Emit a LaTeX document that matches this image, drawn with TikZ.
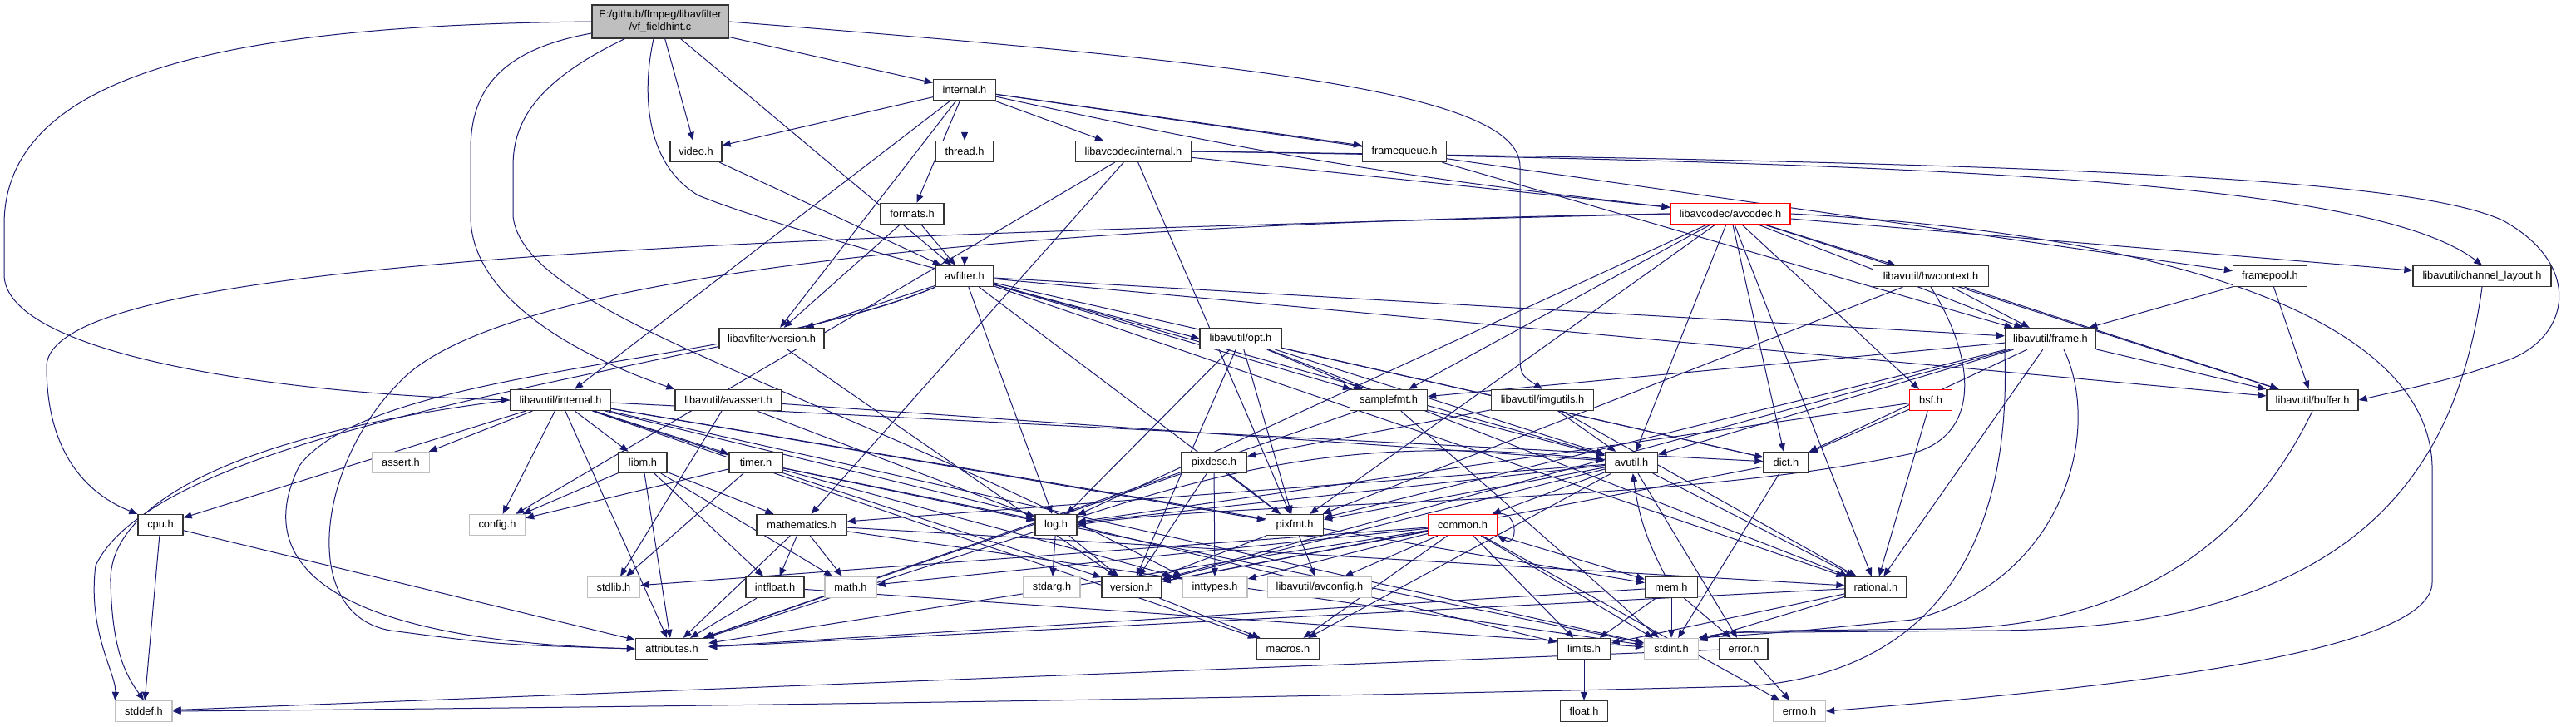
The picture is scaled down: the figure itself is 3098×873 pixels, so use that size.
\documentclass[tikz,border=0pt]{standalone}
\usepackage{fontspec}
\setmainfont{Liberation Sans}
\usetikzlibrary{arrows.meta,backgrounds}
\definecolor{edgec}{HTML}{191970}
\definecolor{grayb}{HTML}{BFBFBF}
\newcommand\fs{\fontsize{6.4pt}{7.6pt}\selectfont}
\tikzset{
  nb/.style={draw=black!80,line width=0.65pt,fill=white,inner sep=0pt,minimum height=12.5pt,font=\fs},
  ng/.style={nb,draw=grayb},
  nr/.style={nb,draw=red},
  e/.style={draw=edgec,line width=0.5pt,-{Triangle[length=5pt,width=4pt]}},
}
\newcommand\N[6]{\node[#5,minimum width=#4pt] (#1) at (#2,#3) {#6};}
\begin{document}
\begin{tikzpicture}[x=0.5pt,y=-0.5pt]
\useasboundingbox (0,0) rectangle (3098,873);
% nodes
\node[nb,fill=grayb,minimum width=82pt,minimum height=20pt,align=center] (root) at (794,26) {E:/github/ffmpeg/libavfilter\\/vf\_fieldhint.c};
\N{lfint}{1160}{108}{37.5}{nb}{internal.h}
\N{video}{837}{182}{31}{nb}{video.h}
\N{thread}{1160}{182}{34.5}{nb}{thread.h}
\N{lcint}{1363}{182}{69.5}{nb}{libavcodec/internal.h}
\N{framequeue}{1689}{182}{50.5}{nb}{framequeue.h}
\N{formats}{1097}{257}{38}{nb}{formats.h}
\N{avcodec}{2081}{257}{72}{nr}{libavcodec/avcodec.h}
\N{avfilter}{1160}{332}{34.5}{nb}{avfilter.h}
\N{hwcontext}{2322}{332}{69.5}{nb}{libavutil/hwcontext.h}
\N{framepool}{2730}{332}{44.5}{nb}{framepool.h}
\N{chlayout}{2985}{332}{83}{nb}{libavutil/channel\_layout.h}
\N{lfversion}{928}{407}{63}{nb}{libavfilter/version.h}
\N{opt}{1492}{407}{49}{nb}{libavutil/opt.h}
\N{frame}{2466}{407}{54.5}{nb}{libavutil/frame.h}
\N{samplefmt}{1670}{481}{46.5}{nb}{samplefmt.h}
\N{imgutils}{1855}{481}{61.5}{nb}{libavutil/imgutils.h}
\N{bsf}{2322}{481}{25.5}{nr}{bsf.h}
\N{buffer}{2781}{481}{55}{nb}{libavutil/buffer.h}
\N{luint}{674}{481}{60.5}{nb}{libavutil/internal.h}
\N{avassert}{876}{481}{64}{nb}{libavutil/avassert.h}
\N{assert}{482}{556}{34.5}{ng}{assert.h}
\N{libm}{773}{556}{29}{nb}{libm.h}
\N{timer}{909}{556}{32}{nb}{timer.h}
\N{pixdesc}{1460}{556}{39.5}{nb}{pixdesc.h}
\N{avutil}{1962}{556}{31.5}{nb}{avutil.h}
\N{dict}{2148}{556}{27}{nb}{dict.h}
\N{cpu}{193}{631}{27}{nb}{cpu.h}
\N{config}{598}{631}{33.5}{ng}{config.h}
\N{mathematics}{964}{631}{54}{nb}{mathematics.h}
\N{log}{1270}{631}{25}{nb}{log.h}
\N{pixfmt}{1557}{631}{34.5}{nb}{pixfmt.h}
\N{common}{1759}{631}{41.5}{nr}{common.h}
\N{stdlib}{738}{706}{31.5}{ng}{stdlib.h}
\N{intfloat}{932}{706}{35}{nb}{intfloat.h}
\N{math}{1023}{706}{31}{ng}{math.h}
\N{stdarg}{1265}{706}{34}{ng}{stdarg.h}
\N{version}{1361}{706}{36}{nb}{version.h}
\N{inttypes}{1461}{706}{39}{ng}{inttypes.h}
\N{avconfig}{1587}{706}{62.5}{ng}{libavutil/avconfig.h}
\N{mem}{2010}{706}{31.5}{nb}{mem.h}
\N{rational}{2256}{706}{37}{nb}{rational.h}
\N{attributes}{808}{780}{43.5}{nb}{attributes.h}
\N{macros}{1549}{780}{37.5}{nb}{macros.h}
\N{limits}{1905}{780}{32}{nb}{limits.h}
\N{stdint}{2010}{780}{32.5}{ng}{stdint.h}
\N{error}{2097}{780}{29}{nb}{error.h}
\N{stddef}{173}{855}{34}{ng}{stddef.h}
\N{float}{1905}{855}{28.5}{nb}{float.h}
\N{errno}{2164}{855}{31.5}{ng}{errno.h}
% edges
\begin{pgfonlayer}{background}
\fill[white] (0,0) rectangle (3098,873);
\foreach \a/\b in {
 root/lfint,root/video,root/avfilter,
 lfint/luint,lfint/avfilter,lfint/formats,lfint/framepool,lfint/framequeue,lfint/thread,lfint/lfversion,lfint/video,lfint/lcint,
 video/avfilter,thread/avfilter,formats/avfilter,formats/lfversion,
 lcint/avcodec,lcint/mathematics,lcint/pixfmt,lcint/config,
 avcodec/samplefmt,avcodec/avutil,avcodec/buffer,avcodec/dict,avcodec/frame,avcodec/hwcontext,avcodec/log,avcodec/pixfmt,avcodec/rational,avcodec/bsf,avcodec/chlayout,
 avfilter/avutil,avfilter/buffer,avfilter/dict,avfilter/frame,avfilter/log,avfilter/samplefmt,avfilter/pixfmt,avfilter/rational,avfilter/lfversion,
 lfversion/version,
 hwcontext/buffer,hwcontext/frame,hwcontext/pixfmt,
 framepool/buffer,framepool/frame,framequeue/frame,
 opt/rational,opt/avutil,opt/dict,opt/log,opt/pixfmt,opt/samplefmt,opt/version,
 frame/avutil,frame/buffer,frame/dict,frame/rational,frame/samplefmt,frame/pixfmt,frame/version,
 samplefmt/stdint,samplefmt/avutil,samplefmt/attributes,
 imgutils/avutil,imgutils/pixdesc,imgutils/rational,
 bsf/dict,bsf/log,bsf/rational,
 luint/limits,luint/stdint,luint/assert,luint/config,luint/attributes,luint/timer,luint/cpu,luint/dict,luint/macros,luint/mem,luint/pixfmt,luint/version,luint/libm,
 avassert/stdlib,avassert/avutil,avassert/log,
 libm/math,libm/config,libm/attributes,libm/intfloat,libm/mathematics,
 timer/config,timer/stdlib,timer/inttypes,timer/stdint,timer/log,
 pixdesc/inttypes,pixdesc/attributes,pixdesc/pixfmt,pixdesc/version,
 avutil/common,avutil/error,avutil/rational,avutil/version,avutil/macros,avutil/mathematics,avutil/log,avutil/pixfmt,
 dict/stdint,dict/version,
 cpu/stddef,cpu/attributes,
 mathematics/stdint,mathematics/math,mathematics/attributes,mathematics/rational,mathematics/intfloat,
 log/stdarg,log/attributes,log/version,
 pixfmt/avconfig,pixfmt/version,
 common/errno,common/inttypes,common/limits,common/math,common/stdint,common/stdlib,common/attributes,common/macros,common/version,common/avconfig,common/mem,
 intfloat/stdint,intfloat/attributes,
 version/macros,
 mem/limits,mem/stdint,mem/attributes,mem/error,
 rational/stdint,rational/limits,rational/attributes,
 error/errno,error/stddef,
 limits/float}
 {\draw[e] (\a) -- (\b);}
\draw[e] (lfint) to[bend right=3] (avcodec);
\draw[e] (log) to[bend left=12] (avutil);
\draw[e] (mem) to[bend left=10] (avutil);
\draw[e] (common.north east) .. controls +(25,-5) and +(25,15) .. (common.south east);
% long routed edges
\draw[e] (root.west) .. controls (300,30) and (5,80) .. (5,270) -- (5,330) .. controls (5,420) and (300,472) .. (luint.west);
\draw[e] ([yshift=-7pt]root.west) .. controls (600,60) and (566,110) .. (566,180) -- (566,260) .. controls (566,360) and (700,430) .. (avassert.north west);
\draw[e] ([xshift=20pt]root.south west) .. controls (640,100) and (617,150) .. (617,200) -- (617,260) .. controls (630,380) and (1000,470) .. (inttypes.north west);
\draw[e] ([xshift=-4pt]root.south) .. controls (770,120) and (780,200) .. (840,235) .. controls (950,280) and (1300,370) .. (opt.west);
\draw[e] (root.east) .. controls (1500,75) and (1828,110) .. (1828,200) -- (1828,420) .. controls (1828,450) .. (imgutils.north);
\draw[e] (avcodec.west) .. controls (900,285) and (60,310) .. (56,440) .. controls (56,560) and (120,600) .. (cpu.north west);
\draw[e] (avcodec.west) .. controls (1200,270) and (600,330) .. (480,460) .. controls (380,560) and (360,740) .. (470,758) .. controls (600,775) .. (attributes.west);
\draw[e] (avfilter.south west) .. controls (900,440) and (450,440) .. (360,560) .. controls (300,680) and (400,770) .. (attributes.west);
\draw[e] (lcint.east) .. controls (2500,195) and (2900,215) .. (3010,265) .. controls (3110,320) and (3090,410) .. (3010,435) .. controls (2950,455) .. (buffer.east);
\draw[e] (lcint.east) .. controls (2300,195) and (2850,215) .. (chlayout.north);
\draw[e] (avcodec.east) .. controls (2600,280) and (2920,380) .. (2925,560) -- (2925,700) .. controls (2925,790) and (2500,830) .. (errno.east);
\draw[e] (chlayout.south) .. controls (2950,600) and (2800,755) .. (2400,758) -- (2150,760) .. controls (2080,760) .. (stdint.north east);
\draw[e] (buffer.south) .. controls (2720,620) and (2600,752) .. (2340,756) -- (2150,758) .. controls (2080,760) .. (stdint.north east);
\draw[e] ([xshift=8pt]frame.south) .. controls (2530,520) and (2480,700) .. (2300,745) .. controls (2150,760) .. (stdint.north east);
\draw[e] (hwcontext.south) .. controls (2370,420) and (2390,520) .. (2300,545) .. controls (2000,610) and (1500,600) .. (log.east);
\draw[e] (frame.south west) .. controls (2420,650) and (2330,810) .. (2100,825) .. controls (1500,840) and (800,850) .. (stddef.east);
\draw[e] (avfilter.south west) .. controls (900,440) and (200,500) .. (115,680) .. controls (105,760) and (140,810) .. (stddef.north west);
\draw[e] (luint.west) .. controls (300,520) and (130,600) .. (133,700) .. controls (135,780) and (150,810) .. (stddef.north);
\end{pgfonlayer}
\end{tikzpicture}
\end{document}
